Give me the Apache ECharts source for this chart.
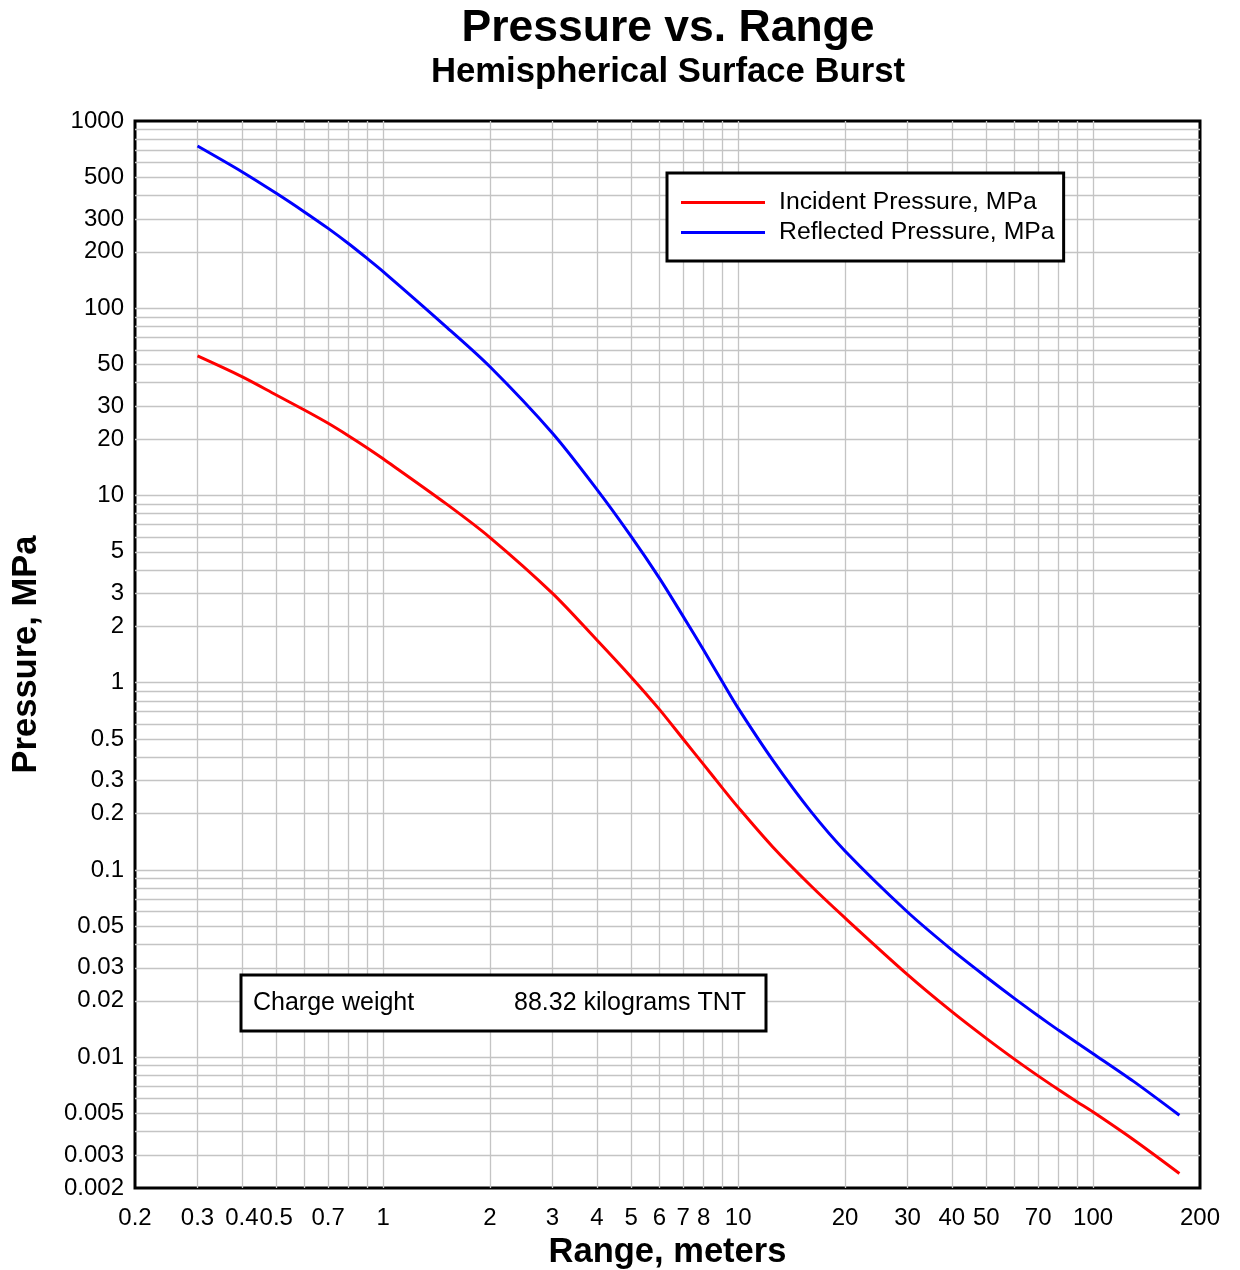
<!DOCTYPE html>
<html>
<head>
<meta charset="utf-8">
<script src="https://cdn.jsdelivr.net/npm/echarts@6/dist/echarts.min.js"></script>
<style>
html, body { margin: 0; padding: 0; background: #fff; }
#chart { width: 1240px; height: 1270px; }
</style>
</head>
<body>
<div id="chart"></div>
<script>
// range in meters, pressures in MPa
const rangeM = [0.3, 0.4, 0.5, 0.6, 0.7, 0.8, 0.9, 1, 1.5, 2, 3, 4, 5, 6, 7, 8, 9, 10, 12.5, 16, 20, 30, 40, 50, 60, 70, 80, 90, 100, 130, 175]
const incident = [55.6, 43.1, 34.4, 28.6, 24.3, 20.8, 18.0, 15.7, 9.07, 5.96, 3.0, 1.69, 1.07, 0.72, 0.50, 0.365, 0.276, 0.216, 0.133, 0.0825, 0.0554, 0.0276, 0.0175, 0.0126, 0.00976, 0.00794, 0.00669, 0.00578, 0.00509, 0.00362, 0.00239]
const reflected = [735, 536, 411, 327, 267, 221, 185, 157, 80.1, 48.7, 21.5, 10.78, 6.03, 3.62, 2.26, 1.49, 1.02, 0.731, 0.387, 0.206, 0.1263, 0.0596, 0.0374, 0.0268, 0.0206, 0.01663, 0.0139, 0.01193, 0.01043, 0.00742, 0.00489]

const xTickLabels = [0.2, 0.3, 0.4, 0.5, 0.7, 1, 2, 3, 4, 5, 6, 7, 8, 10, 20, 30, 40, 50, 70, 100, 200]
const yTickLabels = [0.002, 0.003, 0.005, 0.01, 0.02, 0.03, 0.05, 0.1, 0.2, 0.3, 0.5, 1, 2, 3, 5, 10, 20, 30, 50, 100, 200, 300, 500, 1000]

const xMin = 0.2, xMax = 200
const yMin = 0.002, yMax = 1000

const font = 'Liberation Sans, Arial, Helvetica, sans-serif'
const lg = Math.log10

// log grid lines: every integer multiple inside each decade
function decadeLines( lo, hi ) {
	const out = []
	for( let d = 0.0001; d <= 1000; d *= 10 ) {
		for( let m = 1; m <= 9; m++ ) {
			const v = m * d
			if( v > lo * 1.0001 && v < hi * 0.9999 ) out.push( lg( v ) )
		}
	}
	return out
}

const fmt = v => String( Number( Math.pow( 10, v ).toPrecision( 3 ) ) )

const chart = echarts.init( document.getElementById( 'chart' ), null, { renderer: 'canvas' } )

chart.setOption( {
	animation: false,
	backgroundColor: '#fff',
	title: [
		{
			text: 'Pressure vs. Range',
			left: 668, top: 6, textAlign: 'center', padding: 0,
			textStyle: { fontSize: 44.5, fontWeight: 'bold', fontFamily: font, color: '#000' }
		},
		{
			text: 'Hemispherical Surface Burst',
			left: 668, top: 55, textAlign: 'center', padding: 0,
			textStyle: { fontSize: 34.7, fontWeight: 'bold', fontFamily: font, color: '#000' }
		}
	],
	legend: {
		orient: 'vertical',
		left: 667, top: 173,
		padding: [ 17, 9, 16, 14 ],
		itemGap: 5,
		itemWidth: 84,
		itemHeight: 3,
		icon: 'rect',
		backgroundColor: '#fff',
		borderColor: '#000',
		borderWidth: 3,
		selectedMode: false,
		textStyle: { fontSize: 24.8, lineHeight: 24, fontFamily: font, color: '#000', padding: [ 0, 0, 0, 9 ] },
		data: [ 'Incident Pressure, MPa', 'Reflected Pressure, MPa' ]
	},
	grid: {
		left: 135, top: 121, right: 40, bottom: 82,
		show: true,
		borderColor: '#000',
		borderWidth: 3,
		outerBoundsMode: 'none'
	},
	xAxis: {
		type: 'value',
		min: lg( xMin ), max: lg( xMax ),
		name: 'Range, meters',
		nameLocation: 'middle',
		nameGap: 44,
		nameTextStyle: { fontSize: 34.5, fontWeight: 'bold', fontFamily: font, color: '#000' },
		axisLine: { show: false },
		axisTick: { show: false, customValues: decadeLines( xMin, xMax ) },
		splitLine: { show: true, lineStyle: { color: '#c4c4c4', width: 1.3 } },
		axisLabel: {
			customValues: xTickLabels.map( lg ),
			formatter: fmt,
			showMinLabel: true, showMaxLabel: true,
			margin: 18,
			fontSize: 24, fontFamily: font, color: '#000'
		}
	},
	yAxis: {
		type: 'value',
		min: lg( yMin ), max: lg( yMax ),
		name: 'Pressure, MPa',
		nameLocation: 'middle',
		nameGap: 91,
		nameTextStyle: { fontSize: 34.5, fontWeight: 'bold', fontFamily: font, color: '#000' },
		axisLine: { show: false },
		axisTick: { show: false, customValues: decadeLines( yMin, yMax ) },
		splitLine: { show: true, lineStyle: { color: '#c4c4c4', width: 1.3 } },
		axisLabel: {
			customValues: yTickLabels.map( lg ),
			formatter: fmt,
			showMinLabel: true, showMaxLabel: true,
			margin: 11,
			fontSize: 24, fontFamily: font, color: '#000'
		}
	},
	series: [
		{
			name: 'Incident Pressure, MPa',
			type: 'line',
			symbol: 'none',
			smooth: 0.3,
			color: '#ff0000',
			lineStyle: { color: '#ff0000', width: 3 },
			data: rangeM.map( ( r, i ) => [ lg( r ), lg( incident[ i ] ) ] )
		},
		{
			name: 'Reflected Pressure, MPa',
			type: 'line',
			symbol: 'none',
			smooth: 0.3,
			color: '#0000ff',
			lineStyle: { color: '#0000ff', width: 3 },
			data: rangeM.map( ( r, i ) => [ lg( r ), lg( reflected[ i ] ) ] )
		}
	],
	graphic: [
		{
			type: 'rect', z: 100,
			shape: { x: 241, y: 975, width: 525, height: 56 },
			style: { fill: '#fff', stroke: '#000', lineWidth: 3 }
		},
		{
			type: 'text', z: 101, x: 253, y: 1003,
			style: { text: 'Charge weight', fontSize: 25, fontFamily: font, fill: '#000', verticalAlign: 'middle' }
		},
		{
			type: 'text', z: 101, x: 514, y: 1003,
			style: { text: '88.32 kilograms TNT', fontSize: 25, fontFamily: font, fill: '#000', verticalAlign: 'middle' }
		}
	]
} )
</script>
</body>
</html>
